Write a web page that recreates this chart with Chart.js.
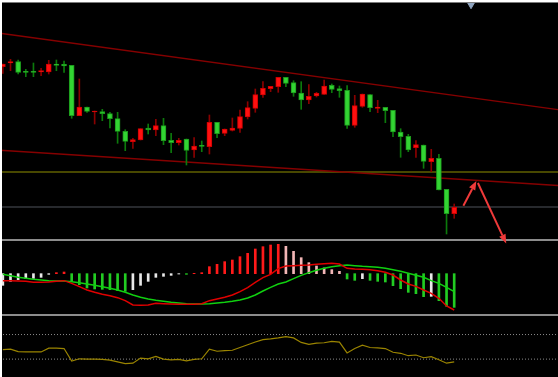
<!DOCTYPE html>
<html>
<head>
<meta charset="utf-8">
<script src="https://cdn.jsdelivr.net/npm/chart.js@4.4.0/dist/chart.umd.min.js"></script>
<style>
  html, body { margin: 0; padding: 0; background: #000; width: 558px; height: 377px; overflow: hidden; }
  canvas { position: absolute; left: 0; }
  #main { top: 0; z-index: 3; }
  #macd { top: 241px; z-index: 1; }
  #osc { top: 316px; z-index: 1; }
  .sep { position: absolute; left: 0; width: 558px; height: 2px; background: #8c8c8c; z-index: 2; }
  .edge { position: absolute; background: #fff; z-index: 5; }
</style>
</head>
<body>
<div class="edge" style="left:0;top:0;width:558px;height:2px"></div>
<div class="edge" style="left:0;top:0;width:2px;height:377px"></div>
<div style="position:absolute;left:0;top:2px;width:558px;height:1px;background:#7a7a7a;z-index:4"></div>
<div class="sep" style="top:239px"></div>
<div class="sep" style="top:314px"></div>
<canvas id="main" width="558" height="246"></canvas>
<canvas id="macd" width="558" height="73"></canvas>
<canvas id="osc" width="558" height="61"></canvas>
<script>
// candles (price units), index 0..59
const candleOpen = [233.3, 237, 238.3, 228.7, 228.7, 228, 228, 236, 235.7, 234.7,
  184.3, 193, 188, 188.3, 186.3, 181.3, 168.7, 158.3, 160, 172,
  170, 174.3, 159.7, 157.3, 161, 150, 154.7, 153.3, 177.7, 166.7,
  169.7, 171.7, 183, 191.7, 205, 211.3, 213.3, 222.7, 217.3, 207,
  200, 204, 205.7, 214.7, 211.3, 209.7, 174.7, 193.7, 205.3, 191.7,
  192.7, 189.7, 168, 163.7, 152.3, 155, 138.3, 141.7, 110.7, 86.3];
const candleClose = [236, 238.3, 227.7, 227.7, 227.7, 229.3, 236, 234.7, 234, 184.3,
  193, 188.7, 189, 186.3, 181.3, 168.7, 158.7, 160.3, 171.3, 170,
  174.3, 159.3, 157.3, 159.7, 149.7, 154, 153.7, 177.7, 166.3, 171,
  172, 183.3, 192.3, 205.3, 211.7, 213.7, 222.7, 216.7, 207, 200,
  203.7, 206.7, 214, 210.7, 209.3, 174.7, 194.3, 206, 192.3, 193,
  189.3, 168, 163.3, 150, 155.3, 138.7, 141.7, 110, 86.3, 92.7];
const candleHigh = [236, 240.7, 240, 230.7, 237, 231.7, 239.7, 240, 239, 234.7,
  221, 193, 189, 190.7, 187.7, 187.7, 170.3, 161.7, 171.3, 176,
  180.7, 181.7, 166.7, 161.7, 161, 162.3, 159, 185, 177.7, 171,
  182, 190, 198.3, 211, 218.3, 213.7, 222.7, 222.7, 219.3, 218.3,
  215.3, 207.7, 220, 216, 214, 214.3, 204.7, 206, 205.3, 199.7,
  192.7, 189.7, 171.3, 165.7, 159.3, 155, 150.7, 145.7, 110.7, 96];
const candleLow = [226.7, 229.3, 226, 223.3, 223.3, 224.3, 226, 229.3, 227.7, 181.7,
  184.3, 187.7, 176, 179.3, 172, 156.7, 149.3, 151.7, 160, 166,
  164.3, 155.3, 147.3, 155, 135, 142.7, 148.3, 146, 162.3, 164.3,
  169, 167.7, 181, 187.7, 202.7, 208.3, 207.7, 213.3, 203.7, 190.7,
  196.3, 203, 205.7, 207.3, 202.7, 171.7, 172.7, 192.7, 188.3, 187.3,
  177.3, 163.3, 142.7, 148.3, 142.7, 131.7, 128.3, 110, 66, 81.7];

// drawn levels on the price panel
const upperTrend = [266.7, 190.4];   // at left / right edge
const lowerTrend = [149.7, 114.5];
const supportLevel = 128;
const grayLevel = 93;
const arrowSegments = [
  [[60.2, 94.3], [61.9, 119]],
  [[62.1, 117], [65.8, 56.5]]
];
const markerPoint = [61.2, 295.3];

// MACD panel
const macdHist = [-0.35, -0.23, -0.18, -0.15, -0.14, -0.11, -0.02, 0.03, 0.05, -0.23,
  -0.33, -0.43, -0.46, -0.47, -0.48, -0.51, -0.53, -0.48, -0.35, -0.23,
  -0.11, -0.08, -0.05, -0.01, -0.02, 0.01, 0.03, 0.21, 0.28, 0.36,
  0.41, 0.51, 0.61, 0.74, 0.81, 0.86, 0.88, 0.82, 0.67, 0.48,
  0.33, 0.23, 0.17, 0.12, 0.07, -0.16, -0.20, -0.15, -0.20, -0.23,
  -0.25, -0.36, -0.45, -0.56, -0.60, -0.69, -0.68, -0.81, -0.98, -1.01];
const difLine = [-0.21, -0.21, -0.22, -0.23, -0.26, -0.26, -0.25, -0.23, -0.21, -0.29,
  -0.39, -0.49, -0.56, -0.62, -0.66, -0.72, -0.81, -0.94, -0.95, -0.94,
  -0.89, -0.90, -0.91, -0.92, -0.92, -0.92, -0.90, -0.81, -0.76, -0.71,
  -0.64, -0.54, -0.42, -0.26, -0.12, -0.02, 0.15, 0.23, 0.24, 0.25,
  0.26, 0.28, 0.30, 0.31, 0.29, 0.16, 0.14, 0.13, 0.12, 0.09,
  0.04, -0.04, -0.19, -0.31, -0.38, -0.49, -0.59, -0.74, -0.97, -1.09];
const deaLine = [-0.02, -0.06, -0.11, -0.14, -0.17, -0.19, -0.21, -0.22, -0.22, -0.24,
  -0.27, -0.31, -0.35, -0.39, -0.44, -0.49, -0.56, -0.64, -0.71, -0.76,
  -0.80, -0.83, -0.86, -0.88, -0.90, -0.91, -0.91, -0.90, -0.88, -0.86,
  -0.83, -0.79, -0.73, -0.64, -0.52, -0.41, -0.31, -0.25, -0.15, -0.05,
  0.03, 0.10, 0.16, 0.21, 0.24, 0.26, 0.24, 0.22, 0.21, 0.19,
  0.16, 0.12, 0.07, 0.01, -0.05, -0.11, -0.21, -0.29, -0.41, -0.54];

// oscillator panel
const oscLine = [43.3, 44.2, 38.3, 37.5, 37.5, 37.5, 46.7, 46.7, 45.8, 15.0,
  20.8, 20.0, 20.0, 19.2, 17.5, 13.3, 9.2, 10.0, 22.5, 20.8,
  26.7, 20.0, 18.3, 19.2, 15.8, 19.2, 20.8, 44.2, 39.2, 40.8,
  41.7, 48.3, 55.0, 61.7, 67.5, 69.2, 71.7, 75.0, 71.7, 60.8,
  55.8, 59.2, 60.0, 63.3, 61.7, 35.0, 45.8, 54.2, 48.3, 47.5,
  45.8, 36.7, 34.2, 28.3, 30.0, 23.3, 25.8, 18.3, 10.0, 13.3];
const oscLevels = [80, 20];

const X_MIN = -0.3725, X_MAX = 72.57;
const UP = '#ff1010', DOWN = '#33d433';
const isUp = (i) => candleClose[i] >= candleOpen[i];

const xScale = { type: 'linear', min: X_MIN, max: X_MAX, display: false, offset: false };
const baseOptions = {
  responsive: false,
  animation: false,
  layout: { padding: 0, autoPadding: false },
  plugins: { legend: { display: false }, tooltip: { enabled: false } },
};
const edgeLine = (vals, color, width, dash) => ({
  type: 'line',
  data: [{ x: X_MIN, y: vals[0] }, { x: X_MAX, y: vals[1] }],
  borderColor: color,
  borderWidth: width,
  borderDash: dash || [],
  pointRadius: 0,
});
const series = (arr) => arr.map((v, i) => ({ x: i, y: v }));

const arrowPlugin = {
  id: 'arrows',
  afterDatasetsDraw(chart) {
    const { ctx, scales: { x, y } } = chart;
    ctx.save();
    ctx.strokeStyle = '#f03a3a';
    ctx.fillStyle = '#f03a3a';
    ctx.lineWidth = 2;
    arrowSegments.forEach(([a, b]) => {
      const x1 = x.getPixelForValue(a[0]), y1 = y.getPixelForValue(a[1]);
      const x2 = x.getPixelForValue(b[0]), y2 = y.getPixelForValue(b[1]);
      const ang = Math.atan2(y2 - y1, x2 - x1);
      const head = 9, half = 3.5;
      const bx = x2 - head * Math.cos(ang), by = y2 - head * Math.sin(ang);
      ctx.beginPath();
      ctx.moveTo(x1, y1);
      ctx.lineTo(bx, by);
      ctx.stroke();
      ctx.beginPath();
      ctx.moveTo(x2, y2);
      ctx.lineTo(bx + half * Math.sin(ang), by - half * Math.cos(ang));
      ctx.lineTo(bx - half * Math.sin(ang), by + half * Math.cos(ang));
      ctx.closePath();
      ctx.fill();
    });
    ctx.restore();
  },
};

new Chart(document.getElementById('main'), {
  type: 'bar',
  data: {
    datasets: [
      {
        data: candleOpen.map((o, i) => ({ x: i, y: [o, candleClose[i]] })),
        backgroundColor: (c) => (isUp(c.dataIndex) ? UP : DOWN),
        borderColor: (c) => (isUp(c.dataIndex) ? '#d00000' : '#1c9a1c'),
        borderWidth: 1,
        borderSkipped: false,
        barThickness: 5,
        grouped: false,
      },
      {
        data: candleLow.map((l, i) => ({ x: i, y: [l, candleHigh[i]] })),
        backgroundColor: (c) => (isUp(c.dataIndex) ? '#8a0000' : '#0c7a0c'),
        borderWidth: 0,
        barThickness: 1,
        grouped: false,
      },
      {
        type: 'line',
        data: [{ x: markerPoint[0], y: markerPoint[1] }],
        showLine: false,
        pointStyle: 'triangle',
        rotation: 180,
        pointRadius: 4,
        backgroundColor: '#8fa4bf',
        borderColor: '#8fa4bf',
      },
      edgeLine(upperTrend, '#850000', 1.4),
      edgeLine(lowerTrend, '#850000', 1.4),
      edgeLine([supportLevel, supportLevel], '#8f8f00', 1.2),
      edgeLine([grayLevel, grayLevel], '#4e535a', 1.2),
    ],
  },
  options: {
    ...baseOptions,
    scales: { x: xScale, y: { min: 54, max: 300, display: false } },
  },
  plugins: [arrowPlugin],
});

const histColor = (i) => {
  const v = macdHist[i], prev = macdHist[i - 1];
  if (v >= 0) return prev === undefined || v >= prev ? '#ff1a1a' : '#f2b6b6';
  return prev !== undefined && v < prev ? '#22cc22' : '#e8e8e8';
};

new Chart(document.getElementById('macd'), {
  type: 'bar',
  data: {
    datasets: [
      {
        type: 'line',
        data: series(difLine),
        borderColor: '#e00000',
        borderWidth: 1.5,
        pointRadius: 0,
      },
      {
        type: 'line',
        data: series(deaLine),
        borderColor: '#10d010',
        borderWidth: 1.5,
        pointRadius: 0,
      },
      {
        data: series(macdHist),
        backgroundColor: (c) => histColor(c.dataIndex),
        barThickness: 2,
        grouped: false,
      },
    ],
  },
  options: {
    ...baseOptions,
    scales: { x: xScale, y: { min: -1.21, max: 0.98, display: false } },
  },
});

new Chart(document.getElementById('osc'), {
  type: 'line',
  data: {
    datasets: [
      {
        data: series(oscLine),
        borderColor: '#9a8400',
        borderWidth: 1.2,
        pointRadius: 0,
      },
      ...oscLevels.map((lv) => edgeLine([lv, lv], '#8a8a8a', 1, [1, 2])),
    ],
  },
  options: {
    ...baseOptions,
    scales: { x: xScale, y: { min: -23.7, max: 125.3, display: false } },
  },
});
</script>
</body>
</html>
